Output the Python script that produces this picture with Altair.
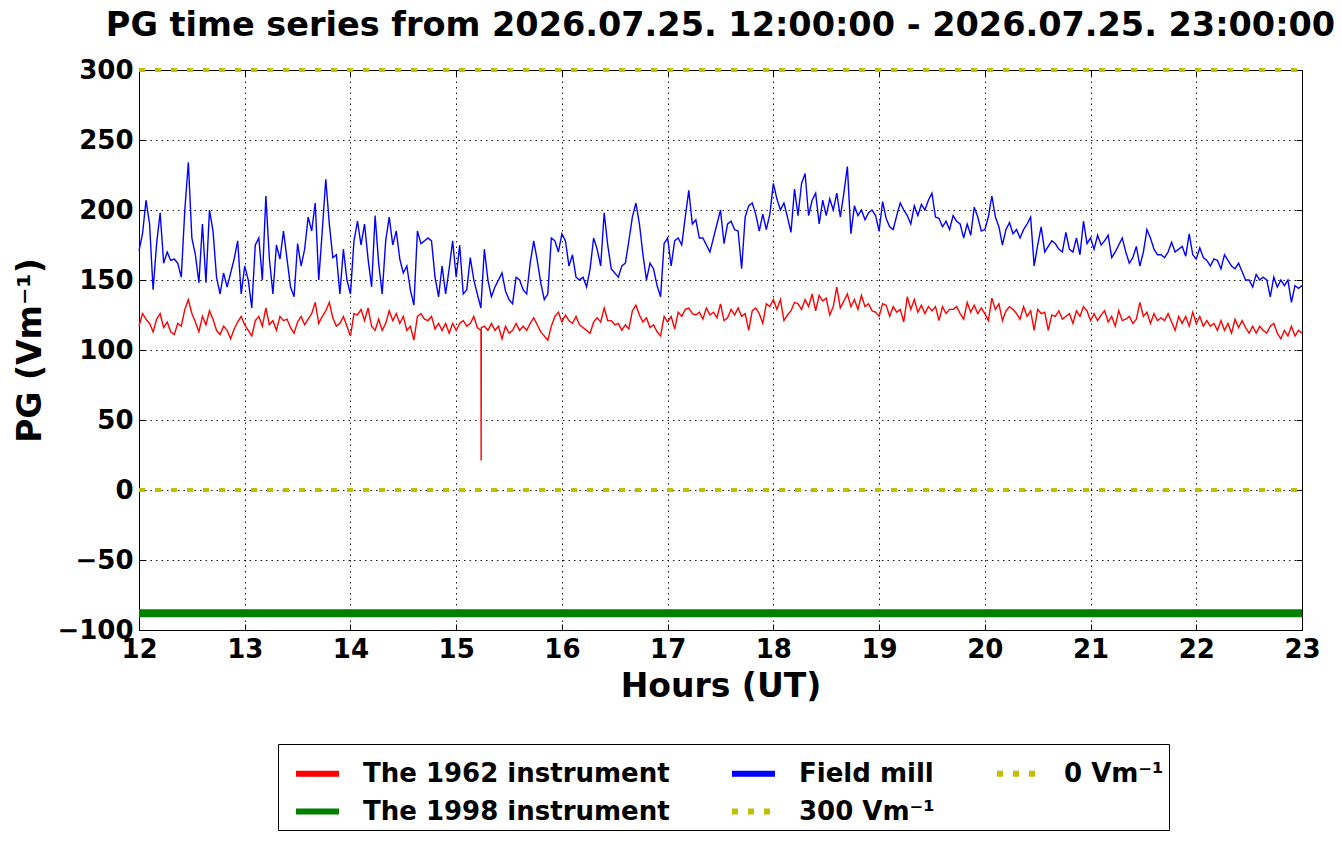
import altair as alt
import pandas as pd

TITLE = "PG time series from 2026.07.25. 12:00:00 - 2026.07.25. 23:00:00"
START_HOUR = 12
STEP_MIN = 2

# The 1962 instrument, every 2 minutes from 12:00 to 23:00
red_1962 = [
    117, 126, 122, 119, 113, 122, 126, 116, 120, 113, 111, 119, 117, 129, 136, 126, 120, 113, 124, 118,
    128, 122, 114, 111, 117, 114, 108, 115, 120, 124, 118, 114, 110, 121, 124, 117, 130, 118, 121, 114,
    124, 121,
    122, 116, 112, 120, 124, 118, 122, 126, 134, 119, 124, 128, 134, 123, 117, 119, 124, 117, 110, 126,
    125, 129, 121, 130, 117, 114, 122, 114, 119, 128, 121, 126, 119, 124, 114, 117, 107, 124, 126, 122,
    121,
    124, 115, 119, 114, 119, 112, 119, 114, 119, 121, 117, 119, 124, 116, 114, 117, 114, 119, 114, 117,
    108, 117, 112, 114, 119, 114, 117, 114, 119, 123, 118, 113, 110, 107, 117, 124, 127, 120, 125, 121,
    119, 124,
    118, 116, 114, 112, 120, 123, 120, 130, 121, 121, 118, 119, 114, 118, 115, 128, 132, 125, 120, 123,
    116, 118, 113, 110, 124, 120, 124, 115, 127, 124, 129, 130, 126, 125, 127, 122, 130, 125, 127, 123,
    133,
    121, 123, 129, 125, 130, 124, 126, 114, 128, 130, 126, 119, 133, 131, 136, 129, 136, 121, 125, 128,
    134, 133, 129, 136, 131, 140, 128, 139, 135, 137, 125, 131, 145, 130, 135, 140, 131, 136, 129, 139,
    131, 133,
    128, 127, 124, 133, 132, 124, 131, 127, 129, 120, 138, 129, 136, 127, 132, 126, 131, 128, 131, 121,
    131, 126, 129, 129, 131, 126, 122, 134, 127, 132, 126, 130, 126, 121, 137, 129, 133, 121, 128, 131,
    129,
    126, 122, 131, 124, 128, 114, 129, 126, 127, 114, 125, 124, 128, 122, 124, 126, 119, 128, 124, 131,
    128, 121, 126, 121, 125, 128, 120, 124, 117, 128, 121, 122, 124, 119, 122, 134, 124, 127, 119, 126,
    121, 123,
    121, 126, 120, 114, 124, 119, 124, 117, 127, 119, 124, 117, 121, 117, 119, 114, 121, 114, 119, 112,
    122, 116, 121, 116, 112, 117, 112, 117, 114, 112, 117, 119, 112, 108, 114, 110, 117, 110, 114, 112,
]

# short drop-out of the 1962 instrument
red_spike_hours = [15.2345, 15.2361, 15.2377]
red_spike_values = [114, 21, 116]

# Field mill, every 2 minutes from 12:00 to 23:00
blue_field_mill = [
    171, 183, 207, 190, 143, 176, 198, 162, 170, 164, 165, 162, 152, 200, 234, 180, 168, 148, 190, 148,
    200, 185, 152, 140, 155, 145, 155, 165, 178, 140, 160, 150, 130, 175, 180, 150, 210, 165, 140, 175,
    165, 185,
    165, 145, 138, 176, 160, 172, 195, 185, 205, 150, 185, 222, 190, 166, 168, 140, 172, 150, 140, 178,
    192, 175, 190, 165, 145, 196, 162, 140, 178, 195, 175, 185, 165, 155, 160, 143, 132, 185, 176, 178,
    180,
    178, 152, 138, 160, 140, 158, 178, 152, 175, 140, 143, 166, 150, 140, 130, 172, 150, 138, 145, 150,
    155, 142, 136, 133, 152, 150, 143, 140, 162, 178, 164, 148, 136, 140, 180, 178, 170, 183, 178, 160,
    168, 152,
    150, 152, 145, 158, 180, 172, 160, 198, 175, 158, 155, 152, 160, 162, 178, 195, 205, 190, 168, 150,
    162, 158, 146, 138, 176, 180, 160, 178, 180, 175, 195, 214, 190, 193, 180, 180, 175, 170, 180, 190,
    200,
    176, 190, 192, 186, 185, 158, 195, 203, 205, 197, 185, 197, 186, 197, 219, 208, 200, 205, 195, 184,
    215, 196, 219, 226, 196, 207, 212, 190, 207, 196, 208, 200, 212, 195, 212, 231, 183, 203, 196, 200,
    193, 198,
    200, 196, 185, 206, 194, 188, 186, 196, 205, 200, 196, 190, 203, 196, 204, 200, 207, 212, 195, 194,
    188, 192, 186, 196, 192, 190, 180, 190, 182, 202, 195, 185, 186, 195, 210, 195, 188, 175, 186, 191,
    183,
    186, 180, 186, 190, 195, 160, 175, 188, 170, 174, 178, 176, 172, 170, 184, 172, 170, 180, 168, 192,
    176, 180, 172, 182, 175, 178, 182, 166, 170, 175, 180, 170, 162, 166, 174, 160, 170, 186, 180, 172,
    168, 168,
    166, 170, 177, 170, 172, 174, 167, 183, 168, 165, 173, 166, 164, 160, 165, 164, 158, 168, 164, 160,
    158, 162, 156, 150, 150, 145, 154, 150, 152, 150, 138, 152, 145, 150, 146, 150, 134, 146, 144, 146,
]

green_1998_level = -88
ref_300 = 300
ref_0 = 0
x_range = [12, 23]
y_range = [-100, 300]
x_ticks = list(range(12, 24))
y_ticks = list(range(-100, 301, 50))

N1962 = "The 1962 instrument"
N1998 = "The 1998 instrument"
NMILL = "Field mill"
N300 = "300 Vm\u207b\u00b9"
N0 = "0 Vm\u207b\u00b9"
legend_order = [N1962, N1998, NMILL, N300, N0]
colors = ["#ff0000", "#008000", "#0000ff", "#bfbf00", "#bfbf00"]
dashes = [[1, 0], [1, 0], [1, 0], [6, 10], [6, 10]]

red_pts = [(START_HOUR + i * STEP_MIN / 60.0, v) for i, v in enumerate(red_1962)]
red_pts += list(zip(red_spike_hours, red_spike_values))
red_pts.sort()
main_rows = [{"series": N1962, "hours": h, "value": v} for h, v in red_pts]
main_rows += [{"series": NMILL, "hours": START_HOUR + i * STEP_MIN / 60.0, "value": v}
              for i, v in enumerate(blue_field_mill)]
df_main = pd.DataFrame(main_rows)
df_green = pd.DataFrame([{"series": N1998, "hours": h, "value": green_1998_level} for h in x_range])
df_ref = pd.DataFrame([{"series": N300, "hours": h, "value": ref_300} for h in x_range]
                      + [{"series": N0, "hours": h, "value": ref_0} for h in x_range])
df_title = pd.DataFrame({"t": [TITLE]})

FONT = "DejaVu Sans"
xs = alt.Scale(domain=x_range, nice=False, zero=False)
ys = alt.Scale(domain=y_range, nice=False, zero=False)

grid_kw = dict(grid=True, gridColor="black", gridDash=[1.5, 4], gridWidth=1, gridOpacity=0.9)
tick_kw = dict(offset=-6, tickSize=6, tickColor="black", tickWidth=1, domain=False)

axis_bottom = alt.Axis(
    orient="bottom", values=x_ticks, title="Hours (UT)", labelFont=FONT, labelFontSize=26,
    labelFontWeight="bold", labelColor="black", labelPadding=6, labelFlush=False, labelOverlap=False,
    titleFont=FONT, titleFontSize=33, titleFontWeight="bold", titleColor="black",
    titleX=581.5, titleY=62, titleAlign="center", titleBaseline="middle", **grid_kw, **tick_kw)
axis_left = alt.Axis(
    orient="left", values=y_ticks, title="PG (Vm\u207b\u00b9)", labelFont=FONT, labelFontSize=26,
    labelFontWeight="bold", labelColor="black", labelPadding=6, labelOverlap=False,
    titleFont=FONT, titleFontSize=33, titleFontWeight="bold", titleColor="black",
    titleX=-115, titleY=280, titleAngle=270, titleAlign="center", titleBaseline="middle",
    **grid_kw, **tick_kw)
axis_top = alt.Axis(orient="top", values=x_ticks, labels=False, title=None, grid=False, **tick_kw)
axis_right = alt.Axis(orient="right", values=y_ticks, labels=False, title=None, grid=False, **tick_kw)

leg = alt.Legend(
    title=None, orient="none", legendX=139, legendY=674, columns=3, direction="vertical",
    labelFont=FONT, labelFontSize=26, labelFontWeight="bold", labelColor="black", labelOffset=21,
    labelLimit=0, symbolType="stroke", symbolSize=1849, symbolStrokeWidth=6, symbolOffset=10,
    padding=5, rowPadding=0, columnPadding=49, strokeColor="black", fillColor="white")

color_enc = alt.Color("series:N", scale=alt.Scale(domain=legend_order, range=colors), legend=leg)
dash_enc = alt.StrokeDash("series:N", scale=alt.Scale(domain=legend_order, range=dashes), legend=leg)

lines = alt.Chart(df_main).mark_line(strokeWidth=1.4).encode(
    x=alt.X("hours:Q", scale=xs, axis=axis_bottom),
    y=alt.Y("value:Q", scale=ys, axis=axis_left),
    color=color_enc, strokeDash=dash_enc,
)
green = alt.Chart(df_green).mark_line(strokeWidth=8).encode(
    x=alt.X("hours:Q", scale=xs, axis=None),
    y=alt.Y("value:Q", scale=ys, axis=None),
    color=color_enc, strokeDash=dash_enc,
)
refs = alt.Chart(df_ref).mark_line(strokeWidth=4, clip=False).encode(
    x=alt.X("hours:Q", scale=xs, axis=None),
    y=alt.Y("value:Q", scale=ys, axis=None),
    color=color_enc, strokeDash=dash_enc,
)
tick_layer = alt.Chart(df_ref).mark_point(opacity=0, size=1).encode(
    x=alt.X("hours:Q", scale=xs, axis=axis_top),
    y=alt.Y("value:Q", scale=ys, axis=axis_right),
)
title_layer = alt.Chart(df_title).mark_text(
    font=FONT, fontSize=33.5, fontWeight="bold", color="black", align="center", baseline="alphabetic"
).encode(x=alt.value(581.5), y=alt.value(-34), text="t:N")

chart = alt.layer(lines, green, refs, tick_layer, title_layer).resolve_axis(
    x="independent", y="independent"
).properties(
    width=1163, height=560,
    autosize=alt.AutoSizeParams(type="none"),
    padding={"left": 131, "top": 62, "right": 32, "bottom": 204},
).configure_view(stroke="black", strokeWidth=1)

chart.save("out.html", embed_options={"renderer": "svg", "actions": False})
